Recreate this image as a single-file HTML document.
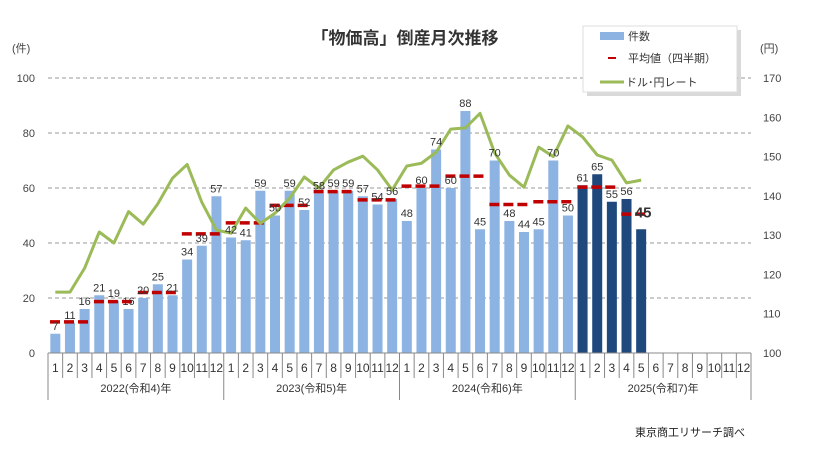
<!DOCTYPE html>
<html><head><meta charset="utf-8">
<style>
body{margin:0;background:#fff;font-family:"Liberation Sans","Noto Sans CJK JP",sans-serif;}
svg text{font-family:"Liberation Sans","Noto Sans CJK JP",sans-serif;}
</style></head>
<body>
<svg id="chart" width="814" height="453" xmlns="http://www.w3.org/2000/svg">
<rect width="814" height="453" fill="#fff"/>
<text x="405" y="44" text-anchor="middle" font-size="17" font-weight="bold" fill="#333">「物価高」倒産月次推移</text>
<text x="12" y="52" font-size="11" fill="#444">(件)</text>
<text x="760" y="52" font-size="11" fill="#444">(円)</text>
<g id="grid"></g><g id="bars"></g><g id="avg"></g><g id="line"></g><g id="labels"></g><g id="axis"></g>
<g>
<rect x="587" y="30" width="154" height="66" fill="#000" opacity="0.15"/>
<rect x="583" y="26" width="154" height="66" fill="#fff" stroke="#ddd"/>
<rect x="600" y="32" width="24" height="8" fill="#8db3e2"/>
<text x="628" y="40" font-size="11" fill="#333">件数</text>
<line x1="608" y1="58" x2="616" y2="58" stroke="#c00000" stroke-width="2"/>
<text x="628" y="62" font-size="11" fill="#333">平均値（四半期）</text>
<line x1="600" y1="82" x2="624" y2="82" stroke="#9bbb59" stroke-width="3"/>
<text x="626" y="86" font-size="11" fill="#333">ドル･円レート</text>
</g>
<text x="745" y="436" text-anchor="end" font-size="11" fill="#222">東京商工リサーチ調べ</text>
</svg>
<script>
const years=["2022(令和4)年","2023(令和5)年","2024(令和6)年","2025(令和7)年"];
const counts=[7,11,16,21,19,16,20,25,21,34,39,57, 42,41,59,50,59,52,58,59,59,57,54,56, 48,60,74,60,88,45,70,48,44,45,70,50, 61,65,55,56,45];
const usdjpy=[115.5,115.5,121.6,130.8,128,136,132.8,138,144.5,148,138.4,131.3, 130.5,136.9,133,135.6,139.4,144.8,142,146.6,148.6,150.1,146.6,141.5, 147.6,148.3,151.1,157,157.3,161,150.9,145.3,142.2,152.4,150,157.8, 155,150.4,149.1,143.3,144];
const leftTicks=[0,20,40,60,80,100];
const rightTicks=[100,110,120,130,140,150,160,170];
const NS="http://www.w3.org/2000/svg";
const X0=48,X1=751,Y0=353,Y1=78,N=48,SW=(X1-X0)/N;
const xc=i=>X0+SW*(i+0.5);
const yL=v=>Y0-(v/100)*(Y0-Y1);
const yR=v=>Y0-((v-100)/70)*(Y0-Y1);
function mk(t,a,p){const e=document.createElementNS(NS,t);for(const k in a)e.setAttribute(k,a[k]);p.appendChild(e);return e;}
const g=id=>document.getElementById(id);
leftTicks.forEach(v=>{
 if(v>0){const l=mk('line',{x1:X0,x2:X1,y1:yL(v),y2:yL(v),stroke:'#999','stroke-dasharray':'4,3','stroke-width':1},g('grid'));
 
 }
 const t=mk('text',{x:35,y:yL(v)+4,'text-anchor':'end','font-size':11,fill:'#444'},g('axis'));t.textContent=v;
 
 
});
rightTicks.forEach(v=>{
 const t=mk('text',{x:763,y:yR(v)+4,'font-size':11,fill:'#444'},g('axis'));t.textContent=v;
 
 
});
counts.forEach((v,i)=>{
 const r=mk('rect',{x:xc(i)-5,y:yL(v),width:10,height:Y0-yL(v),fill:i>=36?'#1f497d':'#8db3e2'},g('bars'));
 
 
 const last=i===counts.length-1;
 const t=mk('text',{x:xc(i),y:yL(v)-4,'text-anchor':'middle','font-size':last?15:11,'font-weight':last?'bold':'normal',fill:'#333'},g('labels'));
 if(last){t.setAttribute('y',yL(v)-12);t.setAttribute('x',xc(i)+2);}
 t.textContent=v;
 
 
});
for(let q=0;q*3<counts.length;q++){
 const s=counts.slice(q*3,q*3+3);const a=s.reduce((p,c)=>p+c,0)/s.length;
 const l=mk('line',{x1:X0+SW*q*3+2,x2:X0+SW*(q*3+s.length)-2,y1:yL(a),y2:yL(a),stroke:'#c00000','stroke-width':3.5,'stroke-dasharray':'10,4'},g('avg'));
 
 
}
const pl=mk('polyline',{points:usdjpy.map((v,i)=>xc(i)+','+yR(v)).join(' '),fill:'none',stroke:'#9bbb59','stroke-width':3,'stroke-linejoin':'round'},g('line'));


mk('line',{x1:X0,x2:X1,y1:Y0,y2:Y0,stroke:'#888'},g('axis'));
for(let i=0;i<=N;i++){
 const x=X0+SW*i;const yr=i%12===0;
 mk('line',{x1:x,x2:x,y1:Y0,y2:yr?400:378,stroke:'#888'},g('axis'));
 if(i<N){const t=mk('text',{x:xc(i),y:372,'text-anchor':'middle','font-size':12,fill:'#333'},g('axis'));t.textContent=(i%12)+1;
 
 }
}
years.forEach((y,k)=>{
 const t=mk('text',{x:X0+SW*(k*12+6),y:392,'text-anchor':'middle','font-size':11,fill:'#333'},g('axis'));t.textContent=y;
 
 
});
</script>
</body></html>
